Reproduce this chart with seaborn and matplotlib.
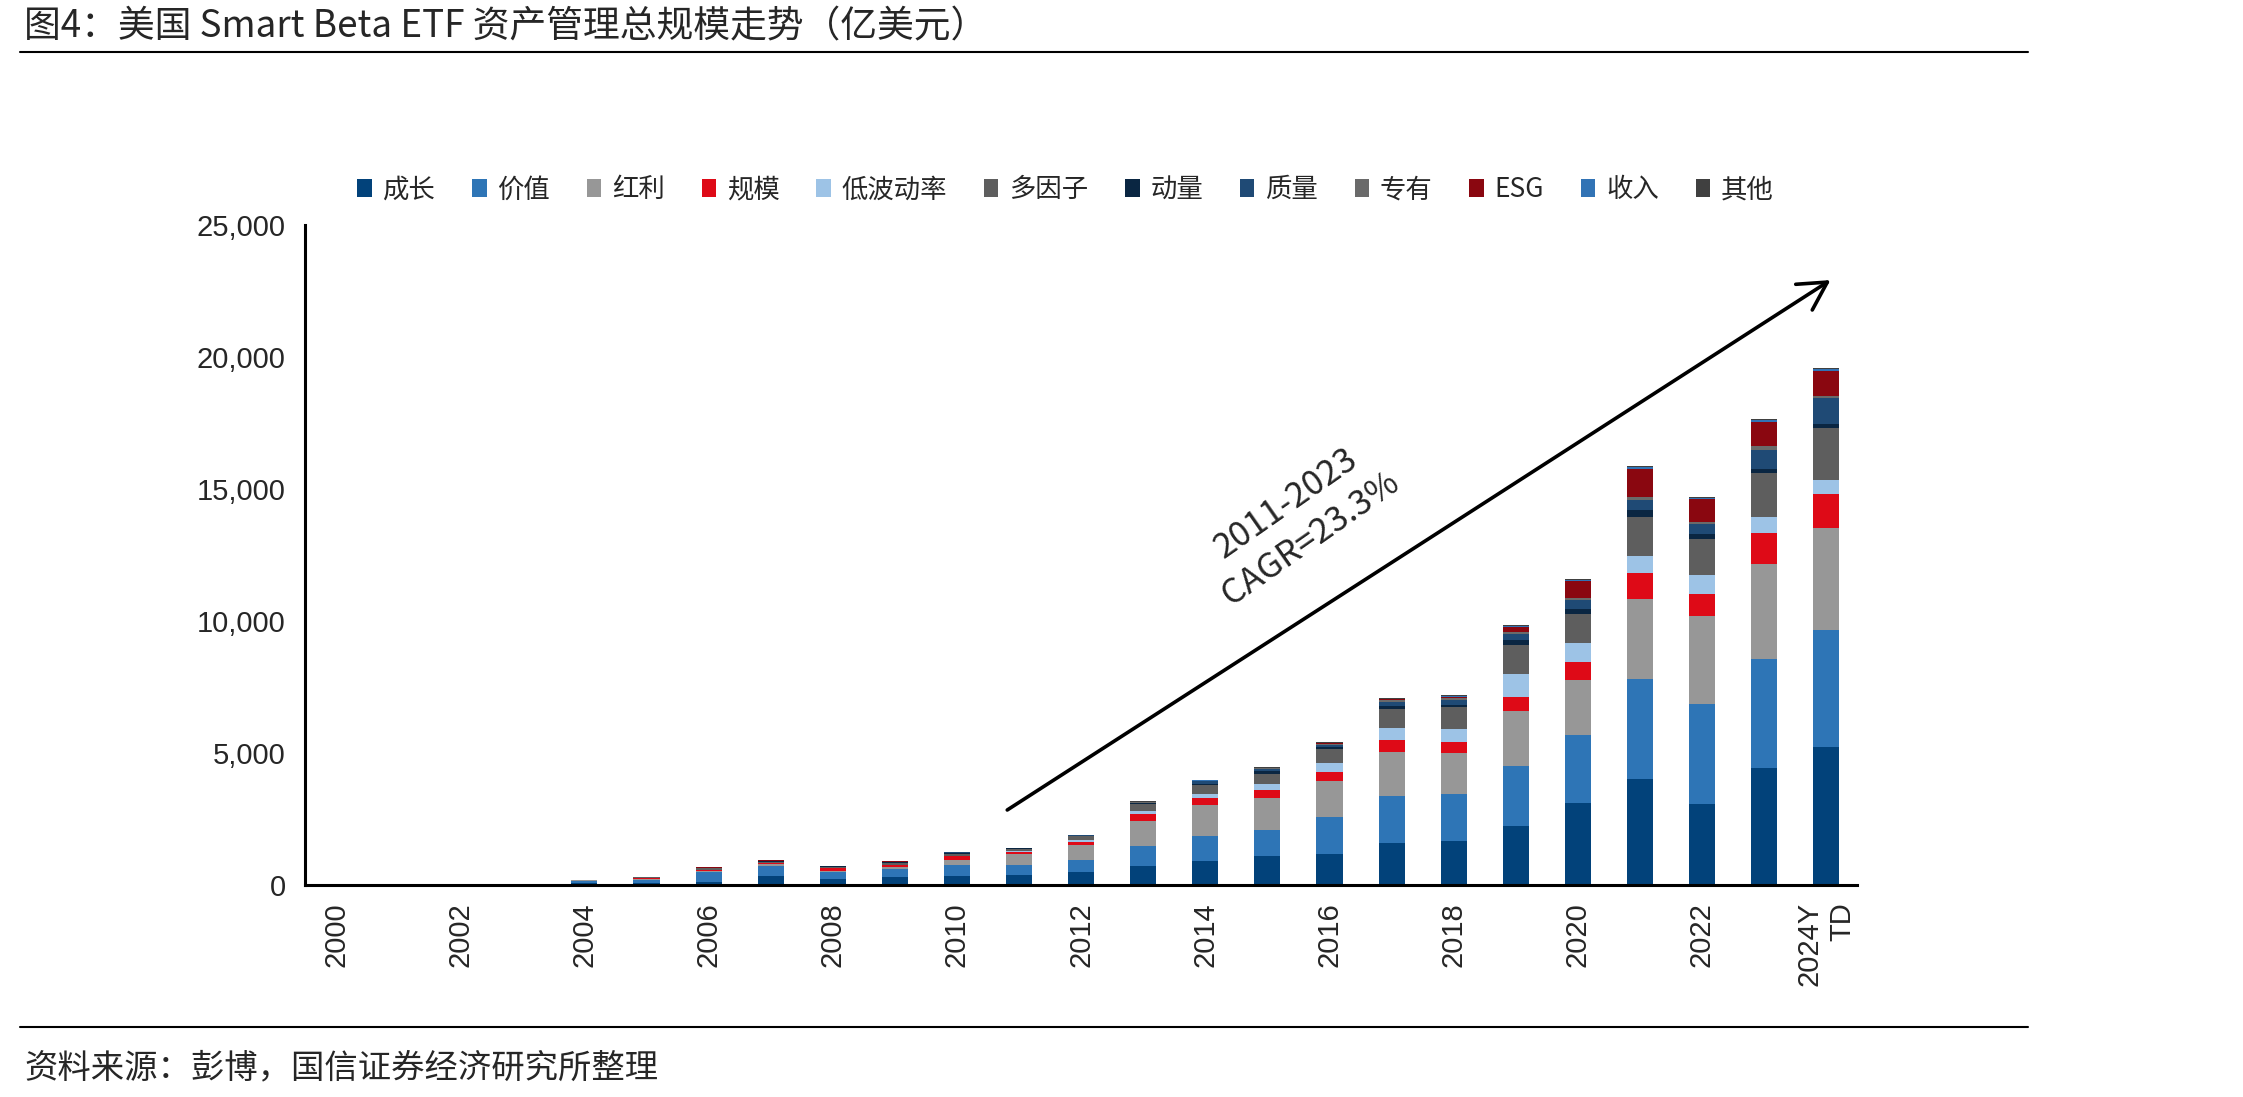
import matplotlib.pyplot as plt
import numpy as np
import pandas as pd
import seaborn as sns
from matplotlib.patches import Patch
from matplotlib.lines import Line2D

years = [str(y) for y in range(2000, 2024)] + ['2024Y\nTD']

growth = [0, 0, 15, 25, 76, 101, 139, 353, 252, 315, 378, 404, 504, 744, 921, 1110, 1198, 1614, 1702, 2245, 3127, 4035, 3089, 4439, 5240]
value = [0, 0, 10, 20, 76, 101, 366, 366, 252, 315, 391, 353, 467, 744, 946, 984, 1387, 1765, 1765, 2270, 2547, 3783, 3758, 4136, 4420]
dividend = [0, 0, 0, 10, 38, 38, 38, 76, 63, 88, 202, 416, 542, 946, 1173, 1198, 1349, 1665, 1538, 2081, 2106, 3014, 3342, 3594, 3860]
size = [0, 0, 15, 5, 25, 50, 38, 50, 101, 50, 126, 76, 139, 252, 265, 303, 353, 441, 416, 542, 668, 996, 845, 1173, 1290]
low_vol = [0, 0, 0, 0, 0, 0, 0, 0, 0, 0, 0, 38, 76, 113, 164, 252, 340, 467, 504, 870, 731, 643, 719, 605, 540]
multi = [0, 0, 0, 15, 0, 15, 63, 50, 38, 76, 101, 100, 126, 265, 315, 378, 542, 731, 820, 1072, 1097, 1475, 1362, 1652, 1940]
momentum = [0, 0, 0, 0, 5, 5, 10, 25, 15, 30, 38, 15, 25, 50, 63, 88, 88, 88, 100, 189, 189, 240, 189, 164, 182]
quality = [0, 0, 0, 0, 5, 5, 10, 25, 15, 30, 38, 10, 20, 25, 88, 101, 76, 164, 177, 252, 315, 378, 353, 719, 981]
proprietary = [0, 0, 0, 0, 0, 0, 0, 0, 0, 0, 0, 0, 0, 10, 25, 30, 20, 63, 63, 63, 88, 126, 88, 151, 70]
esg = [0, 0, 10, 0, 0, 0, 18, 25, 8, 28, 0, 10, 0, 0, 0, 0, 20, 50, 63, 189, 668, 1072, 883, 895, 953]
income = [0, 0, 0, 0, 0, 0, 0, 0, 0, 0, 0, 0, 0, 15, 15, 15, 20, 20, 25, 50, 38, 63, 38, 88, 56]
other = [0, 0, 0, 0, 0, 0, 0, 0, 0, 0, 0, 0, 0, 15, 15, 15, 20, 20, 25, 38, 25, 38, 25, 38, 56]

series = ['成长', '价值', '红利', '规模', '低波动率', '多因子', '动量', '质量', '专有', 'ESG', '收入', '其他']
values = [growth, value, dividend, size, low_vol, multi, momentum, quality, proprietary, esg, income, other]
colors = ['#02427A', '#2E75B6', '#979797', '#DE0A17', '#9DC3E6', '#5E5E5E',
          '#0A2642', '#1F4A75', '#6A6A6A', '#8A0710', '#3173B5', '#404040']

sns.set_style('white')
plt.rcParams['font.family'] = ['Noto Sans CJK SC', 'DejaVu Sans']

fig = plt.figure(figsize=(22.43, 10.97), dpi=100)
ax = fig.add_axes([0.136, 0.1928, 0.692, 0.6025])

df = pd.DataFrame(dict(zip(series, values)), index=years)
cum = df.cumsum(axis=1)
# stacked bars: draw cumulative totals from the top layer down
for name, color in reversed(list(zip(series, colors))):
    sns.barplot(x=years, y=cum[name].values, order=years, color=color, width=0.42,
                saturation=1, errorbar=None, linewidth=0, ax=ax)

ax.set_xlim(-0.5, 24.5)
ax.set_ylim(0, 25000)
yt = list(range(0, 25001, 5000))
ax.set_yticks(yt, [f'{v:,}' for v in yt], fontsize=21, fontfamily='Liberation Sans')
ax.set_xticks(range(0, 25, 2), years[::2], fontsize=21, fontfamily='Liberation Sans', rotation=90)
ax.get_xticklabels()[-1].set_multialignment('right')
ax.set_xticks(np.arange(0.5, 24.6, 1), minor=True)
ax.tick_params(axis='x', which='major', length=0, pad=12)
ax.tick_params(axis='x', which='minor', direction='in', length=8, width=2.2, color='black')
ax.tick_params(axis='y', direction='in', length=8, width=2.2, pad=14, color='black')
for s in ['top', 'right']:
    ax.spines[s].set_visible(False)
for s in ['left', 'bottom']:
    ax.spines[s].set_linewidth(2.2)
    ax.spines[s].set_color('black')
ax.set_xlabel('')
ax.set_ylabel('')

ax.annotate('', xy=(24.07, 22900), xytext=(10.81, 2856),
            arrowprops=dict(arrowstyle='->,head_length=1.0,head_width=0.55', lw=2.6,
                            color='black', mutation_scale=20, shrinkA=0, shrinkB=0))
ax.text(15.5, 13786, '2011-2023\nCAGR=23.3%', rotation=35, rotation_mode='anchor',
        ha='center', va='center', fontsize=25, linespacing=1.3)

handles = [Patch(facecolor=c, edgecolor='none', label=n) for n, c in zip(series, colors)]
fig.legend(handles=handles, loc='center', bbox_to_anchor=(0.475, 0.827), ncol=12, frameon=False,
           fontsize=19, handlelength=0.55, handleheight=0.7, handletextpad=0.4, columnspacing=1.4)

fig.text(0.0107, 0.975, '图4：美国 Smart Beta ETF 资产管理总规模走势（亿美元）', fontsize=26.5,
         ha='left', va='center')
fig.add_artist(Line2D([0.009, 0.904], [0.953, 0.953], color='black', lw=1.5))
fig.add_artist(Line2D([0.009, 0.904], [0.064, 0.064], color='black', lw=1.5))
fig.text(0.0107, 0.027, '资料来源：彭博，国信证券经济研究所整理', fontsize=24, ha='left', va='center')

fig.savefig('out.png', dpi=100)
